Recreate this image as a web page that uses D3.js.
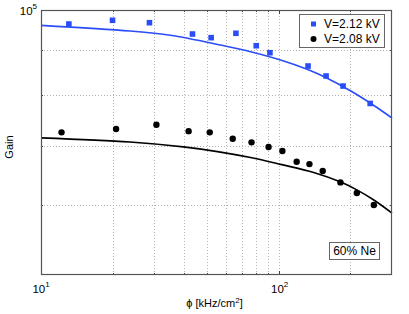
<!DOCTYPE html>
<html>
<head>
<meta charset="utf-8">
<script src="https://cdn.jsdelivr.net/npm/d3@7"></script>
<style>
body { margin: 0; background: #fff; }
text { font-family: "Liberation Sans", Arial, sans-serif; fill: #000; }
</style>
</head>
<body>
<svg id="chart" width="409" height="314"></svg>
<script>
// measured points
const phiHigh = [13.1, 20.0, 28.6, 43.4, 52.0, 66.1, 80.5, 91.9, 133, 158.4, 186.7, 242.8];
const gainHigh = [96400, 97340, 96730, 93910, 93020, 94090, 91080, 89430, 86370, 84140, 81960, 78310];
const phiLow = [12.2, 20.7, 30.6, 41.8, 51.3, 64.1, 76.9, 90.7, 103.7, 119.1, 134.8, 153.3, 182, 213.4, 251.6];
const gainLow = [72610, 73240, 74070, 72840, 72610, 71410, 70740, 69870, 69150, 67240, 66830, 65620, 63700, 61950, 60040];

// fit curves
const fitPhiHigh = [10, 23.7, 35.0, 56.9, 76.2, 101.9, 132.6, 157.9, 201.3, 244.5, 300];
const fitHigh = [96070, 94650, 93600, 91250, 89670, 87750, 85590, 83810, 80900, 78300, 75390];
const fitPhiLow = [10, 23.7, 39.7, 55.3, 76.2, 101.9, 140.5, 182.6, 213.4, 251.6, 300];
const fitLow = [71570, 70790, 69900, 69050, 67980, 66780, 65380, 63760, 62470, 60840, 58790];

const legendLabels = ['V=2.12 kV', 'V=2.08 kV'];
const xGrid = [20, 30, 40, 50, 60, 70, 80, 90, 100, 200];
const yGrid = [60000, 70000, 80000, 90000];

const blue = '#2b4df8';
const plotL = 41, plotR = 392, plotT = 10, plotB = 275;

const svg = d3.select('#chart');

const x = d3.scaleLog().domain([10, 300]).range([plotL, plotR]);
const y = d3.scaleLog().domain([50000, 100000]).range([plotB, plotT]);

// grid
const grid = svg.append('g')
    .attr('stroke', '#b4b4b4')
    .attr('stroke-dasharray', '1,2')
    .attr('stroke-width', 1);
grid.selectAll('.gx').data(xGrid).enter().append('line')
    .attr('x1', d => Math.round(x(d)) + 0.5).attr('x2', d => Math.round(x(d)) + 0.5)
    .attr('y1', plotT).attr('y2', plotB);
grid.selectAll('.gy').data(yGrid).enter().append('line')
    .attr('y1', d => Math.round(y(d)) + 0.5).attr('y2', d => Math.round(y(d)) + 0.5)
    .attr('x1', plotL).attr('x2', plotR);

// inward ticks
const ticks = svg.append('g').attr('stroke', '#444').attr('stroke-width', 1);
const xTicks = xGrid.concat([10]);
xTicks.forEach(d => {
    const px = Math.round(x(d)) + 0.5;
    const len = (d === 10 || d === 100) ? 4 : 2;
    ticks.append('line').attr('x1', px).attr('x2', px).attr('y1', plotB).attr('y2', plotB - len);
    ticks.append('line').attr('x1', px).attr('x2', px).attr('y1', plotT).attr('y2', plotT + len);
});
yGrid.forEach(d => {
    const py = Math.round(y(d)) + 0.5;
    ticks.append('line').attr('x1', plotL).attr('x2', plotL + 2).attr('y1', py).attr('y2', py);
    ticks.append('line').attr('x1', plotR).attr('x2', plotR - 2).attr('y1', py).attr('y2', py);
});

// fit lines
const line = d3.line()
    .x(d => x(d[0]))
    .y(d => y(d[1]))
    .curve(d3.curveCatmullRom);

svg.append('path')
    .datum(fitPhiHigh.map((p, i) => [p, fitHigh[i]]))
    .attr('fill', 'none').attr('stroke', blue).attr('stroke-width', 1.6)
    .attr('d', line);
svg.append('path')
    .datum(fitPhiLow.map((p, i) => [p, fitLow[i]]))
    .attr('fill', 'none').attr('stroke', '#000').attr('stroke-width', 1.6)
    .attr('d', line);

// markers
svg.append('g').selectAll('rect')
    .data(phiHigh.map((p, i) => [p, gainHigh[i]]))
    .enter().append('rect')
    .attr('x', d => x(d[0]) - 2.8).attr('y', d => y(d[1]) - 2.8)
    .attr('width', 5.6).attr('height', 5.6)
    .attr('fill', blue);
svg.append('g').selectAll('circle')
    .data(phiLow.map((p, i) => [p, gainLow[i]]))
    .enter().append('circle')
    .attr('cx', d => x(d[0])).attr('cy', d => y(d[1]))
    .attr('r', 3.2)
    .attr('fill', '#000');

// frame
svg.append('rect')
    .attr('x', plotL + 0.5).attr('y', plotT + 0.5)
    .attr('width', plotR - plotL - 1).attr('height', plotB - plotT - 1)
    .attr('fill', 'none').attr('stroke', '#555').attr('stroke-width', 1.2);

// tick labels
function powLabel(px, py, base, exp, anchor) {
    const t = svg.append('text')
        .attr('x', px).attr('y', py)
        .attr('text-anchor', anchor)
        .attr('font-size', 11.5);
    t.append('tspan').text(base);
    t.append('tspan').attr('dy', -6).attr('font-size', 8).text(exp);
}
powLabel(x(10), 293, '10', '1', 'middle');
powLabel(x(100) + 1, 293, '10', '2', 'middle');
powLabel(plotL - 4, 15, '10', '5', 'end');

// axis titles
const xl = svg.append('text')
    .attr('x', (plotL + plotR) / 2 - 2).attr('y', 307)
    .attr('text-anchor', 'middle')
    .attr('font-size', 11);
xl.append('tspan').text('ϕ [kHz/cm');
xl.append('tspan').attr('dy', -4).attr('font-size', 8).text('2');
xl.append('tspan').attr('dy', 4).text(']');

svg.append('text')
    .attr('transform', 'translate(13,147) rotate(-90)')
    .attr('text-anchor', 'middle')
    .attr('font-size', 11)
    .text('Gain');

// legend
const lg = svg.append('g');
lg.append('rect')
    .attr('x', 299.5).attr('y', 14.5).attr('width', 85).attr('height', 33)
    .attr('fill', '#fff').attr('stroke', '#666').attr('stroke-width', 1);
lg.append('rect').attr('x', 311).attr('y', 21.5).attr('width', 5).attr('height', 5).attr('fill', blue);
lg.append('circle').attr('cx', 313.5).attr('cy', 39).attr('r', 3).attr('fill', '#000');
lg.selectAll('.lt').data(legendLabels).enter().append('text')
    .attr('x', 324).attr('y', (d, i) => 27.5 + i * 15.5)
    .attr('font-size', 12)
    .text(d => d);

// annotation box
svg.append('rect')
    .attr('x', 329.5).attr('y', 242.5).attr('width', 50).attr('height', 17)
    .attr('fill', '#fff').attr('stroke', '#666').attr('stroke-width', 1);
svg.append('text')
    .attr('x', 354.5).attr('y', 255)
    .attr('text-anchor', 'middle')
    .attr('font-size', 12)
    .text('60% Ne');
</script>
</body>
</html>
